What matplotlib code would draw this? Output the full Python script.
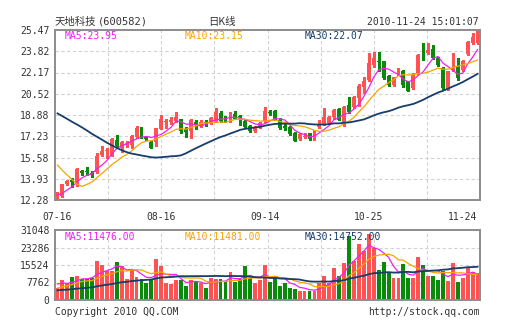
import numpy as np
import pandas as pd
import matplotlib
matplotlib.use("Agg")
import matplotlib.pyplot as plt

plt.rcParams['font.family'] = ['DejaVu Sans Mono', 'Noto Sans CJK SC']

# daily bars, 2010-07-16 .. 2010-11-24
opens = [12.60, 12.60, 13.55, 13.82, 13.50, 14.50, 14.50, 14.40, 14.45, 15.80,
         16.10, 15.80, 16.95, 16.30, 16.55, 16.55, 17.15, 17.90, 17.15, 16.80,
         16.75, 17.80, 18.35, 18.35, 18.43, 18.55, 17.80, 17.60, 18.30, 18.04,
         18.35, 18.28, 18.36, 19.00, 18.70, 18.45, 18.95, 18.80, 18.43, 18.05,
         17.62, 17.92, 18.41, 19.10, 19.20, 18.49, 18.00, 17.97, 17.50, 16.99,
         17.20, 17.45, 16.99, 17.97, 18.18, 18.28, 18.75, 19.31, 18.36, 19.65,
         19.52, 20.20, 21.02, 21.59, 22.78, 23.06, 23.04, 21.87, 21.23, 22.00,
         22.31, 21.49, 20.97, 22.13, 23.62, 23.69, 24.00, 23.30, 22.52, 20.84,
         22.39, 22.57, 22.39, 23.60, 24.46, 24.46]
highs = [12.90, 13.55, 13.85, 14.00, 14.75, 14.60, 14.85, 14.50, 15.90, 16.45,
         16.35, 17.10, 17.30, 16.85, 16.85, 17.30, 18.00, 17.92, 17.25, 16.85,
         17.90, 18.90, 18.60, 18.70, 19.10, 18.60, 17.95, 18.55, 18.45, 18.50,
         18.45, 18.75, 19.40, 19.15, 18.80, 19.10, 19.15, 18.85, 18.50, 18.10,
         18.02, 18.30, 19.47, 19.30, 19.30, 18.65, 18.15, 18.00, 17.55, 17.45,
         17.50, 17.50, 17.70, 18.45, 19.39, 18.80, 19.35, 19.40, 19.55, 20.30,
         20.35, 21.30, 21.85, 23.66, 23.80, 23.80, 23.10, 21.95, 21.85, 22.52,
         22.35, 21.55, 22.10, 23.60, 24.46, 24.46, 24.30, 23.40, 22.60, 22.30,
         23.68, 23.30, 23.15, 24.60, 25.20, 25.47]
lows = [12.28, 12.55, 13.45, 13.30, 13.40, 14.20, 14.20, 14.05, 14.35, 15.70,
        15.50, 15.70, 16.30, 16.00, 16.40, 16.30, 17.10, 17.10, 16.90, 16.30,
        16.50, 17.75, 17.85, 18.20, 18.30, 17.45, 17.17, 17.10, 17.80, 17.95,
        18.05, 18.20, 18.30, 18.30, 18.35, 18.30, 18.55, 18.10, 17.90, 17.55,
        17.55, 17.85, 18.35, 18.85, 18.45, 17.80, 17.70, 17.30, 16.85, 16.95,
        17.10, 16.95, 16.95, 17.90, 18.10, 18.20, 18.60, 18.45, 18.00, 19.05,
        19.45, 19.60, 20.60, 21.50, 22.60, 22.26, 21.70, 21.15, 21.15, 21.95,
        21.02, 20.70, 20.90, 22.05, 23.17, 23.60, 23.20, 22.70, 20.90, 20.80,
        22.30, 21.62, 22.30, 23.50, 24.40, 24.40]
closes = [12.80, 13.50, 13.78, 13.68, 14.70, 14.40, 14.45, 14.30, 15.70, 16.10,
          16.15, 17.00, 16.45, 16.80, 16.70, 17.25, 17.90, 17.15, 17.00, 16.35,
          17.85, 18.55, 18.40, 18.50, 18.74, 17.60, 17.58, 18.50, 18.10, 18.35,
          18.25, 18.67, 19.10, 18.40, 18.45, 18.90, 18.60, 18.70, 17.97, 17.65,
          17.95, 18.28, 19.19, 19.00, 18.50, 17.89, 17.85, 17.38, 16.88, 17.40,
          17.25, 16.99, 17.66, 18.18, 18.75, 18.75, 19.26, 18.49, 19.52, 19.13,
          20.29, 21.12, 21.54, 22.88, 23.30, 23.02, 21.75, 21.23, 21.80, 22.21,
          21.23, 20.76, 22.00, 23.55, 23.58, 23.94, 23.28, 22.74, 20.97, 22.26,
          22.50, 21.75, 23.10, 24.55, 24.90, 25.45]
volumes = [5300, 9000, 7500, 10200, 10800, 9300, 9300, 9800, 17400, 15700,
           12900, 12900, 16900, 14900, 9300, 13900, 10200, 9300, 7500, 9000,
           18200, 14900, 7500, 7100, 9000, 9000, 6100, 9000, 8200, 7500,
           5300, 9800, 9300, 9300, 8200, 12400, 8200, 9300, 14900, 9800,
           7500, 9000, 15700, 8000, 10800, 6100, 7500, 5300, 5000, 4200,
           4200, 4200, 4200, 7500, 10800, 7500, 14200, 10800, 16400, 28200,
           17100, 25000, 21600, 29400, 23000, 13400, 16900, 11900, 9800, 9800,
           15900, 9800, 9800, 18900, 15350, 10500, 10730, 9000, 12700, 8600,
           16400, 8200, 9700, 14800, 12600, 12080]

# the 29 sessions before 07-16, only used to warm up the moving averages
pre_closes = [20.0, 20.3, 20.6, 20.9, 21.2, 21.6, 22.0, 22.4, 22.8, 23.2,
              23.0, 22.6, 22.0, 21.3, 20.6, 20.0, 19.5, 19.0, 18.5, 18.5,
              17.8, 17.4, 17.3, 18.2, 15.95, 12.85, 12.45, 12.40, 12.85]
pre_volumes = [3600, 4000, 3500, 3900, 4200, 3700, 3900, 3400, 4100, 3800,
               3500, 4000, 3700, 3900, 3600, 4200, 3800, 3500, 3900, 3800,
               3300, 3600, 3400, 3700, 3500, 6800, 8400, 7800, 7200]

date_labels = ["07-16", "08-16", "09-14", "10-25", "11-24"]
date_index = [0, 21, 42, 63, 85]
vol_top = 31048

stock_name = "天地科技"
stock_code = "(600582)"
stamp = "2010-11-24 15:01:07"

UP = "#ff5252"
DOWN = "#0a8a0a"
MA_COLORS = {5: "#f020f0", 10: "#f7a400", 30: "#163d6b"}
GRID = "#d2d2d2"
BORDER = "#8c8c8c"
TXT = "#333333"

W, H = 505, 330


def px(x, y):
    return x / W, 1 - y / H


def moving_averages(pre, cur):
    s = pd.Series(list(pre) + list(cur), dtype=float)
    n = len(pre)
    return {k: s.rolling(k).mean().to_numpy()[n:] for k in (5, 10, 30)}


o = np.array(opens)
h = np.array(highs)
l = np.array(lows)
c = np.array(closes)
v = np.array(volumes, dtype=float)
x = np.arange(len(c))
colors = [UP if cc >= oo else DOWN for oo, cc in zip(o, c)]

price_ma = moving_averages(pre_closes, closes)
vol_ma = moving_averages(pre_volumes, volumes)

fig = plt.figure(figsize=(W / 100, H / 100), dpi=100)
ax = fig.add_axes([55 / W, 1 - 200 / H, 425 / W, 170 / H])
axv = fig.add_axes([55 / W, 1 - 300 / H, 425 / W, 70 / H])

lo, hi = l.min(), h.max()
price_ticks = np.linspace(lo, hi, 9)
vol_ticks = np.linspace(0, vol_top, 5)

for a in (ax, axv):
    a.set_xlim(-0.5, len(c) - 0.5)
    for sp in a.spines.values():
        sp.set_color(BORDER)
        sp.set_linewidth(1.4)
    a.tick_params(length=0, labelsize=7, colors=TXT, pad=4)
    # 8 even vertical divisions
    for gx in np.linspace(-0.5, len(c) - 0.5, 9)[1:-1]:
        a.axvline(gx, color=GRID, lw=0.8, dashes=(3, 2.2), zorder=0)

ax.set_ylim(lo, hi)
ax.set_yticks(price_ticks)
ax.set_yticklabels(["%.2f" % t for t in price_ticks])
for gy in price_ticks[1:-1]:
    ax.axhline(gy, color=GRID, lw=0.8, dashes=(3, 2.2), zorder=0)

ax.set_xticks(date_index)
ax.set_xticklabels(date_labels)
ax.tick_params(axis='x', pad=9)
ax.get_xticklabels()[-1].set_ha('right')

# candles
ax.vlines(x, l, h, colors=colors, lw=0.9, zorder=2, antialiased=False)
body = np.maximum(np.abs(c - o), 0.03)
ax.bar(x, body, bottom=np.minimum(o, c), width=0.78, color=colors,
       linewidth=0, zorder=2, antialiased=False)
for k, col in MA_COLORS.items():
    ax.plot(x, price_ma[k], color=col, lw=1.3 if k == 30 else 0.9, zorder=3)

# volume
axv.set_ylim(0, vol_top)
axv.set_yticks(vol_ticks)
axv.set_yticklabels(["%d" % t for t in vol_ticks])
axv.set_xticks([])
for gy in vol_ticks[1:-1]:
    axv.axhline(gy, color=GRID, lw=0.8, dashes=(3, 2.2), zorder=0)
axv.bar(x, v, width=0.78, color=colors, linewidth=0, zorder=2, antialiased=False)
for k, col in MA_COLORS.items():
    axv.plot(x, vol_ma[k], color=col, lw=1.3 if k == 30 else 0.9, zorder=3)

# header
fig.text(*px(55, 22), stock_name, family=['Noto Sans CJK SC'], size=7.5,
         color=TXT, va='center')
fig.text(*px(98, 22), stock_code, size=7.5, color=TXT, va='center')
fig.text(*px(208, 22), "日K线", family=['Noto Sans CJK SC'], size=7.5,
         color=TXT, va='center')
fig.text(*px(479, 22), stamp, size=7, color=TXT, va='center', ha='right')

# moving average readouts
for (k, col), lx in zip(MA_COLORS.items(), (65, 185, 305)):
    fig.text(*px(lx, 36), "MA%d:%.2f" % (k, price_ma[k][-1]), size=7,
             color=col, va='center')
    fig.text(*px(lx, 237), "MA%d:%.2f" % (k, vol_ma[k][-1]), size=7,
             color=col, va='center')

fig.text(*px(55, 312), "Copyright 2010 QQ.COM", size=7, color=TXT, va='center')
fig.text(*px(480, 312), "http://stock.qq.com", size=7, color=TXT,
         va='center', ha='right')

fig.savefig("out.png", dpi=100, facecolor="white")
